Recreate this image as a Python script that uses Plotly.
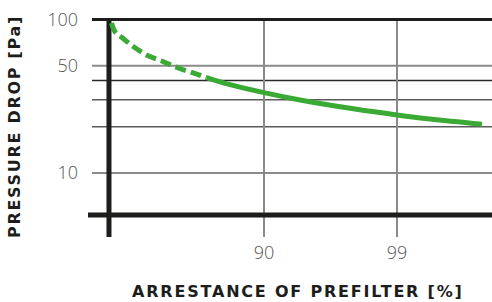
import plotly.graph_objects as go

# ---- data ----
arrestance_dashed = [79.68, 79.92, 80.39, 81.20, 82.12, 83.08, 84.20, 85.40, 86.12]
pressure_dashed = [94.9, 83.3, 76.3, 66.2, 58.3, 53.7, 48.3, 44.2, 41.8]
arrestance_solid = [86.12, 87.36, 90.0, 92.44, 96.16, 99.0, 101.23, 104.75]
pressure_solid = [41.8, 38.4, 33.4, 29.9, 26.1, 23.9, 22.5, 20.8]

x_ticks = [90, 99]
x_tick_labels = ["90", "99"]
y_ticks = [10, 50, 100]
y_tick_labels = ["10", "50", "100"]
y_grid_light = [50, 10]
y_grid_dark = [40]
y_grid_mid = [30, 20]

x_title = "ARRESTANCE OF PREFILTER [%]"
y_title = "PRESSURE DROP [Pa]"

GREEN = "#3aaa35"
BLACK = "#1d1d1b"
GREY = "#8a8a8a"

X_RANGE = [77.887, 105.428]
Y_RANGE_LOG = [0.5635, 2.0619]
Y_AXIS_X = 79.51     # where the vertical axis stands
X_AXIS_Y = 5.33      # where the horizontal axis stands
GRID_X0 = 78.36
XAXIS_X0 = 78.09
VLINE_Y0 = 3.83
Y_TOP = 100

fig = go.Figure()
fig.add_trace(go.Scatter(x=arrestance_dashed, y=pressure_dashed, mode="lines",
                         line=dict(color=GREEN, width=5, dash="11px,5px", shape="spline"),
                         hoverinfo="skip", showlegend=False))
fig.add_trace(go.Scatter(x=arrestance_solid, y=pressure_solid, mode="lines",
                         line=dict(color=GREEN, width=5, shape="spline"),
                         hoverinfo="skip", showlegend=False))

shapes = []
for v in y_grid_light:
    shapes.append(dict(type="line", xref="x", yref="y", x0=GRID_X0, x1=X_RANGE[1], y0=v, y1=v,
                       line=dict(color=GREY, width=2), layer="below"))
for v in y_grid_dark:
    shapes.append(dict(type="line", xref="x", yref="y", x0=GRID_X0, x1=X_RANGE[1], y0=v, y1=v,
                       line=dict(color="#2b2b2b", width=1.5), layer="below"))
for v in y_grid_mid:
    shapes.append(dict(type="line", xref="x", yref="y", x0=GRID_X0, x1=X_RANGE[1], y0=v, y1=v,
                       line=dict(color="#5a5a5a", width=1.5), layer="below"))
for v in x_ticks:
    shapes.append(dict(type="line", xref="x", yref="y", x0=v, x1=v, y0=VLINE_Y0, y1=Y_TOP,
                       line=dict(color=GREY, width=2), layer="below"))
# top line at 100
shapes.append(dict(type="line", xref="x", yref="y", x0=GRID_X0, x1=X_RANGE[1], y0=Y_TOP, y1=Y_TOP,
                   line=dict(color=BLACK, width=3), layer="below"))
# x axis
shapes.append(dict(type="line", xref="x", yref="y", x0=XAXIS_X0, x1=X_RANGE[1], y0=X_AXIS_Y, y1=X_AXIS_Y,
                   line=dict(color=BLACK, width=5), layer="below"))
# y axis
shapes.append(dict(type="line", xref="x", yref="y", x0=Y_AXIS_X, x1=Y_AXIS_X, y0=VLINE_Y0, y1=Y_TOP,
                   line=dict(color=BLACK, width=5), layer="below"))

tickfont = dict(family="Open Sans", size=18, color="#555555", weight=300)
titlefont = dict(family="DejaVu Sans", size=16, color=BLACK, weight="bold")

fig.update_layout(
    width=492, height=302,
    margin=dict(l=85, r=0, t=10, b=62),
    paper_bgcolor="white", plot_bgcolor="white",
    shapes=shapes,
    xaxis=dict(range=X_RANGE, showgrid=False, zeroline=False, showline=False,
               tickmode="array", tickvals=x_ticks, ticktext=x_tick_labels,
               ticks="", tickfont=tickfont, ticklabelstandoff=0, fixedrange=True),
    yaxis=dict(type="log", range=Y_RANGE_LOG, showgrid=False, zeroline=False, showline=False,
               tickmode="array", tickvals=y_ticks, ticktext=y_tick_labels,
               ticks="", tickfont=tickfont, ticklabelstandoff=6, fixedrange=True),
    annotations=[
        dict(text='<span style="letter-spacing:1.8px">' + x_title + '</span>',
             xref="paper", yref="paper",
             x=0.5233, y=-0.226, xanchor="center", yanchor="middle",
             showarrow=False, font=titlefont),
        dict(text='<span style="letter-spacing:1.7px">' + y_title + '</span>',
             xref="paper", yref="paper",
             x=-0.172, y=0.4957, xanchor="center", yanchor="middle", textangle=-90,
             showarrow=False, font=titlefont),
    ],
)

fig.write_html("out.html", config={"displayModeBar": False},
               post_script="document.body.style.margin='0';document.body.style.overflow='hidden';")
